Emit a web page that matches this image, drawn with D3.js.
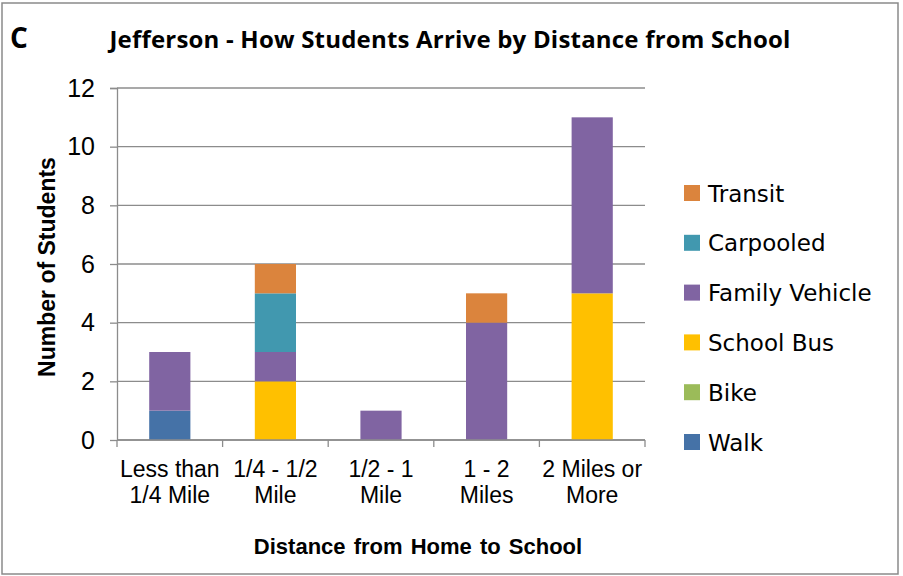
<!DOCTYPE html>
<html>
<head>
<meta charset="utf-8">
<script src="https://cdn.jsdelivr.net/npm/d3@7"></script>
<style>
  body { margin: 0; background: #fff; }
  svg { display: block; }
</style>
</head>
<body>
<div id="chart"></div>
<script>
// DATA
const categories = [
  ["Less than", "1/4 Mile"],
  ["1/4 - 1/2", "Mile"],
  ["1/2 - 1", "Mile"],
  ["1 - 2", "Miles"],
  ["2 Miles or", "More"]
];
const modes = ["Walk", "Bike", "School Bus", "Family Vehicle", "Carpooled", "Transit"];
const walk          = [1, 0, 0, 0, 0];
const bike          = [0, 0, 0, 0, 0];
const schoolBus     = [0, 2, 0, 0, 5];
const familyVehicle = [2, 1, 1, 4, 6];
const carpooled     = [0, 2, 0, 0, 0];
const transit       = [0, 1, 0, 1, 0];
const yTicks = [0, 2, 4, 6, 8, 10, 12];
const colors = ["#4572A7", "#9BBB59", "#FFC000", "#8064A2", "#4198AF", "#DB843D"];

const W = 903, H = 576;
const margin = { top: 88, left: 117, right: 258, bottom: 136 };
const innerWidth = W - margin.left - margin.right;
const innerHeight = H - margin.top - margin.bottom;

const svg = d3.select("#chart").append("svg")
  .attr("width", W)
  .attr("height", H);

// outer frame
svg.append("path")
  .attr("d", "M2,3H898V574H2Z")
  .attr("fill", "none")
  .attr("stroke", "#8a8a8a")
  .attr("stroke-width", 1.5);

// title
svg.append("text")
  .attr("x", 10).attr("y", 48)
  .attr("font-family", "Open Sans, sans-serif")
  .attr("font-weight", "bold")
  .attr("font-size", 28)
  .text("C");
svg.append("text")
  .attr("x", 450).attr("y", 48)
  .attr("text-anchor", "middle")
  .attr("font-family", "Open Sans, sans-serif")
  .attr("font-weight", "bold")
  .attr("font-size", 24)
  .attr("letter-spacing", 0.2)
  .text("Jefferson - How Students Arrive by Distance from School");

const g = svg.append("g")
  .attr("transform", `translate(${margin.left}, ${margin.top})`);

const table = categories.map((c, i) => ({
  i: i,
  "Walk": walk[i], "Bike": bike[i], "School Bus": schoolBus[i],
  "Family Vehicle": familyVehicle[i], "Carpooled": carpooled[i], "Transit": transit[i]
}));
const stacked = d3.stack().keys(modes)(table);

const xScale = d3.scaleBand()
  .domain(d3.range(categories.length))
  .range([0, innerWidth])
  .paddingInner(0.61)
  .paddingOuter(0.305);
const yScale = d3.scaleLinear()
  .domain([0, 12])
  .range([innerHeight, 0]);

// grid
g.selectAll(".grid").data(yTicks).enter().append("line")
  .attr("class", "grid")
  .attr("x1", 0).attr("x2", innerWidth)
  .attr("y1", d => yScale(d)).attr("y2", d => yScale(d))
  .attr("stroke", "#8c8c8c")
  .attr("stroke-width", 1.3);

// bars
const layer = g.selectAll(".layer").data(stacked).enter().append("g")
  .attr("class", "layer")
  .attr("fill", (d, i) => colors[i]);
layer.selectAll("rect").data(d => d.filter(p => p[1] > p[0])).enter().append("rect")
  .attr("x", d => xScale(d.data.i))
  .attr("width", xScale.bandwidth())
  .attr("y", d => yScale(d[1]))
  .attr("height", d => yScale(d[0]) - yScale(d[1]));

// y axis
const yAxis = d3.axisLeft(yScale).tickValues(yTicks).tickSize(7).tickPadding(15);
const yAxisG = g.append("g").call(yAxis);
yAxisG.select(".domain").attr("stroke", "#8c8c8c").attr("stroke-width", 1.3)
  .attr("d", `M-7,0.5H0.5V${innerHeight}`);
yAxisG.selectAll(".tick line").attr("stroke", "#8c8c8c").attr("stroke-width", 1.3);
yAxisG.selectAll(".tick text")
  .attr("font-family", "Liberation Sans, Arial, sans-serif")
  .attr("font-size", 25)
  .attr("fill", "#000");

// x axis
const xEdges = d3.range(categories.length + 1).map(i => i * innerWidth / categories.length);
const xAxisG = g.append("g").attr("transform", `translate(0, ${innerHeight})`);
xAxisG.append("line")
  .attr("x1", 0).attr("x2", innerWidth)
  .attr("stroke", "#8c8c8c").attr("stroke-width", 1.3);
xAxisG.selectAll(".xtick").data(xEdges).enter().append("line")
  .attr("x1", d => d).attr("x2", d => d)
  .attr("y1", 0).attr("y2", 7)
  .attr("stroke", "#8c8c8c").attr("stroke-width", 1.3);
const xLabels = xAxisG.selectAll(".xlabel").data(categories).enter().append("text")
  .attr("class", "xlabel")
  .attr("text-anchor", "middle")
  .attr("font-family", "Liberation Sans, Arial, sans-serif")
  .attr("font-size", 23)
  .attr("fill", "#000");
xLabels.selectAll("tspan").data((d, i) => d.map(line => ({ line, i }))).enter().append("tspan")
  .attr("x", d => xScale(d.i) + xScale.bandwidth() / 2)
  .attr("y", (d, j) => 37 + j * 26)
  .text(d => d.line);

// axis titles
svg.append("text")
  .attr("x", 418).attr("y", 554)
  .attr("text-anchor", "middle")
  .attr("font-family", "Liberation Sans, Arial, sans-serif")
  .attr("font-weight", "bold")
  .attr("font-size", 22)
  .attr("word-spacing", 2)
  .text("Distance from Home to School");
svg.append("text")
  .attr("transform", `translate(55, 267) rotate(-90)`)
  .attr("text-anchor", "middle")
  .attr("font-family", "Liberation Sans, Arial, sans-serif")
  .attr("font-weight", "bold")
  .attr("font-size", 23)
  .text("Number of Students");

// legend
const legendItems = modes.slice().reverse();
const legendColors = colors.slice().reverse();
const legend = svg.append("g").attr("transform", "translate(684, 193)");
const item = legend.selectAll(".item").data(legendItems).enter().append("g")
  .attr("transform", (d, i) => `translate(0, ${i * 49.8})`);
item.append("rect")
  .attr("x", 0).attr("y", -8)
  .attr("width", 16).attr("height", 16)
  .attr("fill", (d, i) => legendColors[i]);
item.append("text")
  .attr("x", 24).attr("y", 8.5)
  .attr("font-family", "DejaVu Sans, sans-serif")
  .attr("font-size", 23)
  .attr("fill", "#000")
  .text(d => d);
</script>
</body>
</html>
